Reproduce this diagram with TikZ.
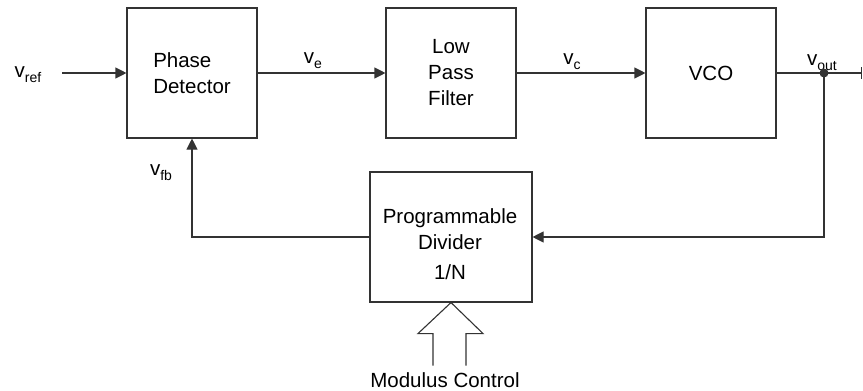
\documentclass[tikz,border=0pt]{standalone}
\usepackage{fontspec}
\setmainfont{Liberation Sans}
\usepackage{tikz}
\usetikzlibrary{arrows.meta, positioning, calc}
\usepackage{xcolor}
\definecolor{LineGray}{HTML}{333333}
\newcommand{\sig}[1]{v\raisebox{-5pt}{\fontsize{14}{14}\selectfont #1}}
\tikzset{
    % Node styles
    blockbox/.style={
        rectangle,
        draw=LineGray,
        fill=white,
        line width=1.1pt,
        minimum width=130pt,
        minimum height=130pt,
        align=center,
        font=\fontsize{20.5}{26}\selectfont
    },
    siglabel/.style={
        anchor=base,
        inner sep=0pt,
        font=\fontsize{20.5}{26}\selectfont
    },
    % Arrow styles
    sigarrow/.style={
        -{Triangle[length=11pt,width=11pt]},
        line width=1.1pt,
        LineGray
    },
    sigline/.style={
        line width=1.1pt,
        LineGray
    }
}
\begin{document}
\begin{tikzpicture}[x=1pt, y=-1pt]
    \useasboundingbox (0,0) rectangle (863,391);

    % Forward path
    \node[blockbox,align=left] (pd) at (192,73) {Phase\\Detector};
    \node[blockbox] (lpf) at (451,73) {Low\\Pass\\Filter};
    \node[blockbox] (vco) at (711,73) {VCO};

    % Feedback divider
    \node[blockbox,minimum width=162pt] (div) at (451,237) {};
    \node[siglabel,anchor=center,align=center] (divtext) at (450,244) {Programmable\\Divider\\[4pt]1/N};

    \coordinate (in) at (62,73);
    \coordinate (tap) at (824,73);
    \coordinate (out) at (862,73);

    % Signal labels
    \node[siglabel] (vref) at (28,77) {\sig{ref}};
    \node[siglabel] (ve) at (313,63) {\sig{e}};
    \node[siglabel] (vc) at (572,64) {\sig{c}};
    \node[siglabel] (vout) at (822,65) {\sig{out}};
    \node[siglabel] (vfb) at (161,175) {\sig{fb}};

    \draw[sigarrow] (in) -- (pd.west);
    \draw[sigarrow] (pd.east) -- (lpf.west);
    \draw[sigarrow] (lpf.east) -- (vco.west);
    \draw[sigline,-{Bar[width=12pt]}] (vco.east) -- (out);
    \fill[LineGray] (tap) circle (4.5pt);
    \draw[sigarrow] (tap) |- (div.east);
    \draw[sigarrow] (div.west) -| (pd.south);

    % Modulus control input
    \draw[sigline] (div.south) -- ++(32,31) -- ++(-17,0) -- ++(0,32);
    \draw[sigline] (div.south) -- ++(-33,31) -- ++(15,0) -- ++(0,32);
    \node[siglabel] (mod) at (445,387) {Modulus Control};
\end{tikzpicture}
\end{document}
